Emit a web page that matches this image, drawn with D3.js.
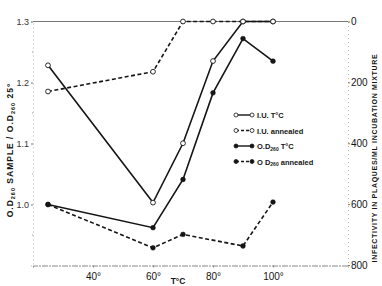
<!DOCTYPE html>
<html>
<head>
<meta charset="utf-8">
<script src="https://cdn.jsdelivr.net/npm/d3@7"></script>
<style>
  body { margin: 0; background: #fff; }
  svg { font-family: "Liberation Sans", Arial, sans-serif; }
</style>
</head>
<body>
<div id="chart"></div>
<script>
// temperatures (°C)
const temps = [25, 60, 70, 80, 90, 100];
const tempsOdAnn = [25, 60, 70, 90, 100];

// infectivity, plaques/ml (right axis)
const iuTemp = [144, 595, 400, 130, 0, 0];
const iuAnnealed = [230, 165, 0, 0, 0, 0];

// O.D.260 sample / O.D.260 25° (left axis)
const odTemp = [1.0, 0.962, 1.041, 1.183, 1.272, 1.235];
const odAnnealed = [1.0, 0.929, 0.951, 0.932, 1.004];

const xTicks = [40, 60, 80, 100];
const yLeftTicks = [1.0, 1.1, 1.2, 1.3];
const yRightTicks = [0, 200, 400, 600, 800];

const W = 382, H = 286;
const svg = d3.select("#chart").append("svg")
    .attr("width", W).attr("height", H);

const x = d3.scaleLinear().domain([20, 125]).range([33, 348]);
const yL = d3.scaleLinear().domain([0.9, 1.3]).range([265.5, 21.5]);
const yR = d3.scaleLinear().domain([800, 0]).range([265, 21.5]);

const ink = "#151515";

// top frame line
svg.append("line")
    .attr("x1", 33).attr("x2", 348)
    .attr("y1", yL(1.3)).attr("y2", yL(1.3))
    .attr("stroke", "#555").attr("stroke-width", 0.8);

// bottom axis (faint, broken)
const xAxis = svg.append("g")
    .attr("transform", `translate(0,${yL(0.9)})`)
    .call(d3.axisBottom(x).tickValues(xTicks).tickSize(2)
        .tickFormat(d => d + "°"));
xAxis.select(".domain").attr("stroke", "#888").attr("stroke-dasharray", "6,1,2,1");
xAxis.selectAll(".tick line").attr("stroke", "#888");
xAxis.selectAll("text").attr("fill", ink).attr("font-size", 10).attr("dy", "0.9em");

// left axis
const yAxisL = svg.append("g")
    .attr("transform", "translate(33,0)")
    .call(d3.axisLeft(yL).tickValues(yLeftTicks).tickSize(2)
        .tickFormat(d3.format(".1f")));
yAxisL.select(".domain").attr("stroke", "#bbb").attr("stroke-dasharray", "1,3");
yAxisL.selectAll(".tick line").attr("stroke", "#777");
yAxisL.selectAll("text").attr("fill", "#333").attr("font-size", 9).attr("x", -4);
// minor dots
svg.append("g").selectAll("line")
    .data([0.95, 1.05, 1.15, 1.25])
    .join("line")
    .attr("x1", 32).attr("x2", 33)
    .attr("y1", d => yL(d)).attr("y2", d => yL(d))
    .attr("stroke", "#999");

// right axis
const yAxisR = svg.append("g")
    .attr("transform", "translate(348,0)")
    .call(d3.axisRight(yR).tickValues(yRightTicks).tickSize(2));
yAxisR.select(".domain").attr("stroke", "#bbb").attr("stroke-dasharray", "1,3");
yAxisR.selectAll(".tick line").attr("stroke", "#777");
yAxisR.selectAll("text").attr("fill", ink).attr("font-size", 10).attr("x", 3);

// axis titles
const lt = svg.append("text")
    .attr("transform", "translate(13,150) rotate(-90)")
    .attr("text-anchor", "middle")
    .attr("font-size", 8.5).attr("font-weight", "bold")
    .attr("letter-spacing", 1).attr("fill", ink);
lt.append("tspan").text("O.D");
lt.append("tspan").attr("font-size", 5.5).attr("dy", 2).text("260");
lt.append("tspan").attr("dy", -2).text(" SAMPLE / O.D");
lt.append("tspan").attr("font-size", 5.5).attr("dy", 2).text("260");
lt.append("tspan").attr("dy", -2).text(" 25°");

svg.append("text")
    .attr("transform", "translate(377,158) rotate(-90)")
    .attr("text-anchor", "middle")
    .attr("font-size", 7).attr("font-weight", "bold")
    .attr("letter-spacing", 0.7).attr("fill", ink)
    .text("INFECTIVITY IN PLAQUES/ML INCUBATION MIXTURE");

svg.append("text")
    .attr("x", 178).attr("y", 284)
    .attr("text-anchor", "middle")
    .attr("font-size", 8.5).attr("font-weight", "bold").attr("fill", ink)
    .text("T°C");

// series
const series = [
  {xs: temps, ys: iuTemp, scale: yR, dash: null, open: true},
  {xs: temps, ys: iuAnnealed, scale: yR, dash: "4,2.5", open: true},
  {xs: temps, ys: odTemp, scale: yL, dash: null, open: false},
  {xs: tempsOdAnn, ys: odAnnealed, scale: yL, dash: "4,2.5", open: false}
];

series.forEach(s => {
  const pts = s.xs.map((t, i) => [t, s.ys[i]]);
  const line = d3.line().x(d => x(d[0])).y(d => s.scale(d[1]));
  svg.append("path")
      .datum(pts)
      .attr("fill", "none")
      .attr("stroke", ink)
      .attr("stroke-width", 1.6)
      .attr("stroke-dasharray", s.dash)
      .attr("d", line);
  svg.append("g").selectAll("circle")
      .data(pts)
      .join("circle")
      .attr("cx", d => x(d[0]))
      .attr("cy", d => s.scale(d[1]))
      .attr("r", 2.4)
      .attr("fill", s.open ? "#fff" : ink)
      .attr("stroke", ink)
      .attr("stroke-width", s.open ? 0.9 : 0.5);
});

// legend
const legendItems = [
  {label: ["I.U.  T°C"], dash: null, open: true},
  {label: ["I.U.  annealed"], dash: "3,2", open: true},
  {label: ["O.D", "260", "  T°C"], dash: null, open: false},
  {label: ["O D", "260", "  annealed"], dash: "3,2", open: false}
];
const lg = svg.append("g").attr("transform", "translate(236,115)");
legendItems.forEach((it, i) => {
  const g = lg.append("g").attr("transform", `translate(0,${i * 15.5})`);
  g.append("line").attr("x1", 0).attr("x2", 16).attr("y1", 0).attr("y2", 0)
      .attr("stroke", ink).attr("stroke-width", 1.4)
      .attr("stroke-dasharray", it.dash);
  [0, 16].forEach(cx => g.append("circle").attr("cx", cx).attr("cy", 0).attr("r", 2)
      .attr("fill", it.open ? "#fff" : ink).attr("stroke", ink).attr("stroke-width", 0.8));
  const t = g.append("text").attr("x", 21).attr("y", 3)
      .attr("font-size", 7.5).attr("font-weight", "bold").attr("fill", ink);
  t.append("tspan").text(it.label[0]);
  if (it.label.length > 1) {
    t.append("tspan").attr("font-size", 5).attr("dy", 1.5).text(it.label[1]);
    t.append("tspan").attr("dy", -1.5).text(it.label[2]);
  }
});
</script>
</body>
</html>
